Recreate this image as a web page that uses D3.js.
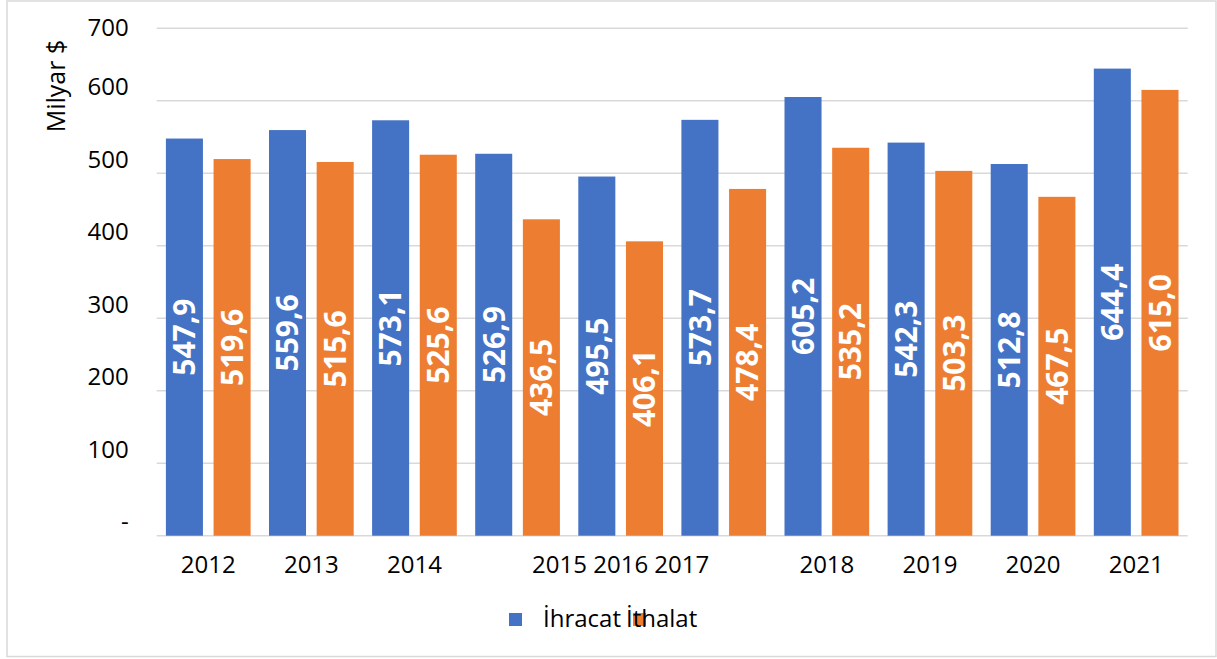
<!DOCTYPE html>
<html>
<head>
<meta charset="utf-8">
<script src="https://cdn.jsdelivr.net/npm/d3@7"></script>
<style>
    body { margin: 0; background: #fff; }
    #chart { width: 1217px; height: 659px; }
    text { font-family: 'Open Sans', 'Noto Sans', sans-serif; }
</style>
</head>
<body>
<div id="chart"></div>
<script>
//Datos
const years = ['2012', '2013', '2014', '2015', '2016', '2017', '2018', '2019', '2020', '2021'];
const exportsValues = [547.9, 559.6, 573.1, 526.9, 495.5, 573.7, 605.2, 542.3, 512.8, 644.4];
const importsValues = [519.6, 515.6, 525.6, 436.5, 406.1, 478.4, 535.2, 503.3, 467.5, 615.0];
const seriesNames = ['İhracat', 'İthalat'];
const xTickLabels = ['2012', '2013', '2014', '', '2015 2016 2017', '', '2018', '2019', '2020', '2021'];
const yTicks = [0, 100, 200, 300, 400, 500, 600, 700];
const yTickLabels = ['-', '100', '200', '300', '400', '500', '600', '700'];

//Colores fijos
const COLOR_BLUE = '#4472C4',
COLOR_ORANGE = '#ED7D31',
COLOR_GRID = '#D9D9D9';
const colors = [COLOR_BLUE, COLOR_ORANGE];

let data = years.map(function(d, i) {
    return { year: d, values: [exportsValues[i], importsValues[i]] };
});

let width = 1217, height = 659;
let margin = {top: 28.3, right: 29.3, bottom: 123.3, left: 156.7};

let svg = d3.select('#chart')
    .append('svg')
        .attr('width', width)
        .attr('height', height);

//Marco
svg.append('rect')
    .attr('x', 7)
    .attr('y', 1)
    .attr('width', 1209)
    .attr('height', 655.5)
    .attr('fill', 'none')
    .attr('stroke', COLOR_GRID)
    .attr('stroke-width', 1.5);

// X axis
let x = d3.scaleBand()
    .domain(years)
    .range([margin.left, width - margin.right]);

let x1 = d3.scaleBand()
    .domain([0, 1])
    .range([0, x.bandwidth()])
    .paddingInner(0.223)
    .paddingOuter(0.193);

// Y axis
let y = d3.scaleLinear()
    .domain([0, 700])
    .range([height - margin.bottom, margin.top]);

//Rejilla
svg.append('g')
    .selectAll('line')
    .data(yTicks)
    .enter()
    .append('line')
    .attr('x1', margin.left)
    .attr('x2', width - margin.right)
    .attr('y1', function(d) { return y(d); })
    .attr('y2', function(d) { return y(d); })
    .attr('stroke', COLOR_GRID)
    .attr('stroke-width', 1.5);

let yAxis = function(g) {
    g.call(d3.axisLeft(y).tickValues(yTicks).tickSize(0).tickPadding(28).tickFormat(function(d, i) { return yTickLabels[i]; }));
    g.call(function(g){ g.select('.domain').remove(); });
    g.call(function(g){
        g.selectAll('.tick text')
            .attr('font-size', 24)
            .attr('font-family', null)
            .attr('fill', '#000')
            .attr('dy', null)
            .attr('y', function(d) { return Math.max(-6, 35 - y(d)); });
    });
}

svg.append('g')
    .attr('transform', 'translate(' + margin.left + ',0)')
    .call(yAxis);

let xAxis = function(g) {
    g.call(d3.axisBottom(x).tickSize(0).tickPadding(0).tickFormat(function(d, i) { return xTickLabels[i]; }));
    g.call(function(g){ g.select('.domain').remove(); });
    g.call(function(g){
        g.selectAll('.tick text')
            .attr('font-size', 24)
            .attr('font-family', null)
            .attr('fill', '#000')
            .attr('dy', null)
            .attr('y', 37.5);
    });
}

svg.append('g')
    .attr('transform', 'translate(0,' + (height - margin.bottom) + ')')
    .call(xAxis);

//Titulo eje Y
svg.append('text')
    .attr('transform', 'translate(65,86) rotate(-90)')
    .attr('text-anchor', 'middle')
    .attr('font-size', 25)
    .attr('fill', '#000')
    .text('Milyar $');

//Barras
let groups = svg.selectAll('.group')
    .data(data)
    .enter()
    .append('g')
    .attr('class', 'group')
    .attr('transform', function(d) { return 'translate(' + x(d.year) + ',0)'; });

groups.selectAll('rect')
    .data(function(d) { return d.values; })
    .enter()
    .append('rect')
    .attr('x', function(d, i) { return x1(i); })
    .attr('width', x1.bandwidth())
    .attr('y', function(d) { return y(d); })
    .attr('height', function(d) { return y(0) - y(d); })
    .attr('fill', function(d, i) { return colors[i]; });

//Etiquetas
groups.selectAll('.label')
    .data(function(d) { return d.values; })
    .enter()
    .append('text')
    .attr('class', 'label')
    .attr('transform', function(d, i) {
        return 'translate(' + (x1(i) + x1.bandwidth() / 2) + ',' + ((y(d) + y(0)) / 2) + ') rotate(-90)';
    })
    .attr('text-anchor', 'middle')
    .attr('dy', '0.36em')
    .attr('font-size', 30)
    .attr('font-weight', 'bold')
    .attr('fill', '#fff')
    .text(function(d) { return d.toFixed(1).replace('.', ','); });

//Leyenda
let legend = svg.append('g');

legend.append('rect')
    .attr('x', 509)
    .attr('y', 613)
    .attr('width', 13)
    .attr('height', 13)
    .attr('fill', COLOR_BLUE);

legend.append('rect')
    .attr('x', 633)
    .attr('y', 613)
    .attr('width', 13)
    .attr('height', 13)
    .attr('fill', COLOR_ORANGE);

let t1 = legend.append('text')
    .attr('x', 543)
    .attr('y', 627)
    .attr('font-size', 24)
    .attr('fill', '#000')
    .text(seriesNames[0]);

legend.append('text')
    .attr('x', 543 + t1.node().getComputedTextLength() + 5)
    .attr('y', 627)
    .attr('font-size', 24)
    .attr('fill', '#000')
    .text(seriesNames[1]);
</script>
</body>
</html>
